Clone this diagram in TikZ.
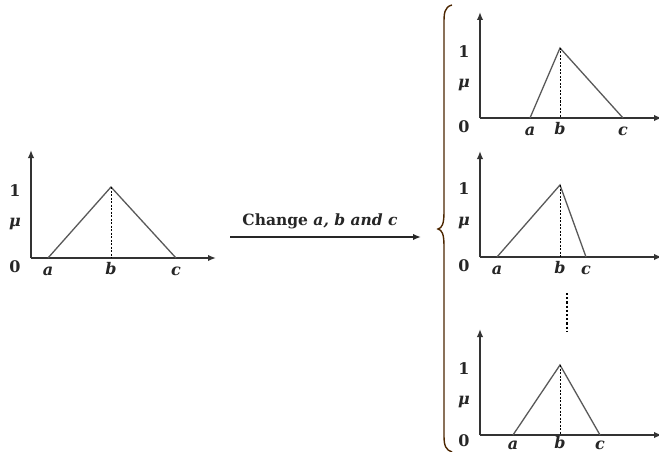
\documentclass[tikz,border=0pt]{standalone}
\usetikzlibrary{arrows.meta}
\usepackage{fontspec}
\newfontfamily\lblfont{DejaVu Serif}
\tikzset{
  axis/.style={draw=black!80, line width=1.6pt, -{Latex[length=8pt,width=6.5pt]}},
  tri/.style={draw=black!65, line width=1.3pt, line join=miter},
  peakline/.style={draw=black, line width=1pt, dash pattern=on 2pt off 1.5pt},
  lbl/.style={font=\lblfont\bfseries\fontsize{16}{18}\selectfont, text=black!85, inner sep=0pt},
  ilbl/.style={font=\lblfont\bfseries\itshape\fontsize{16}{18}\selectfont, text=black!85, inner sep=0pt},
}
% #1 prefix, #2 ox, #3 baseline y, #4 axis top, #5 a, #6 b, #7 peak y, #8 c, #9 x axis end
\newcommand\lbloff{12}
\newcommand\zerooff{9}
\newcommand\mfplot[9]{%
  \coordinate (#1o) at (#2,#3);
  \coordinate (#1top) at (#2,#4);
  \coordinate (#1end) at (#9,#3);
  \coordinate (#1a) at (#5,#3);
  \coordinate (#1b) at (#6,#3);
  \coordinate (#1c) at (#8,#3);
  \coordinate (#1p) at (#6,#7);
  \draw[axis] (#1o) -- (#1top);
  \draw[axis] (#1o) -- (#1end);
  \draw[tri] (#1a) -- (#1p) -- (#1c);
  \draw[peakline] (#1p) -- (#1b);
  \node[lbl] (#1one) at ({#2-16},{#7+4}) {1};
  \node[ilbl] (#1mu) at ({#2-16},{(#7+#3)/2+2}) {μ};
  \node[lbl] (#1zero) at ({#2-16},{#3+\zerooff}) {0};
  \node[ilbl] (#1la) at ({#5},{#3+\lbloff+1}) {a};
  \node[ilbl] (#1lb) at ({#6},{#3+\lbloff-1}) {b};
  \node[ilbl] (#1lc) at ({#8},{#3+\lbloff+1}) {c};
}
\begin{document}
\begin{tikzpicture}[x=1pt,y=-1pt]
\useasboundingbox (0,0) rectangle (659,452);
\fill[white] (0,0) rectangle (659,452);
% left plot
\mfplot{L}{31}{258}{150}{48}{111}{187}{176}{216}
% arrow
\coordinate (arrS) at (230,237);
\coordinate (arrE) at (421,237);
\draw[line width=1.6pt, draw=black!85, -{Latex[length=8pt,width=6.5pt]}] (arrS) -- (arrE);
\node[font=\lblfont\bfseries\fontsize{15.5}{17}\selectfont, text=black!85, inner sep=0pt] (chg) at (320,221) {Change \textit{a, b and c}};
% brace
\draw[line width=1.4pt, draw=black!70!orange]
  (452,5) .. controls (444,7) and (444,14) .. (444,24)
  -- (444,212) .. controls (444,224) and (442,228) .. (438,229)
  .. controls (442,230) and (444,234) .. (444,246)
  -- (444,436) .. controls (444,446) and (446,450) .. (452,452);
% right plots
\mfplot{A}{480}{118}{12}{530}{560}{48}{623}{662}
\mfplot{B}{480}{257}{151}{497}{560}{185}{586}{662}
\renewcommand\lbloff{9}
\renewcommand\zerooff{6}
\mfplot{C}{480}{435}{329}{513}{560}{365}{600}{662}
% vertical dots
\coordinate (dt) at (567,293);
\coordinate (db) at (567,332);
\draw[line width=2.6pt, dash pattern=on 2.2pt off 2pt] (dt) -- (db);
\end{tikzpicture}
\end{document}
